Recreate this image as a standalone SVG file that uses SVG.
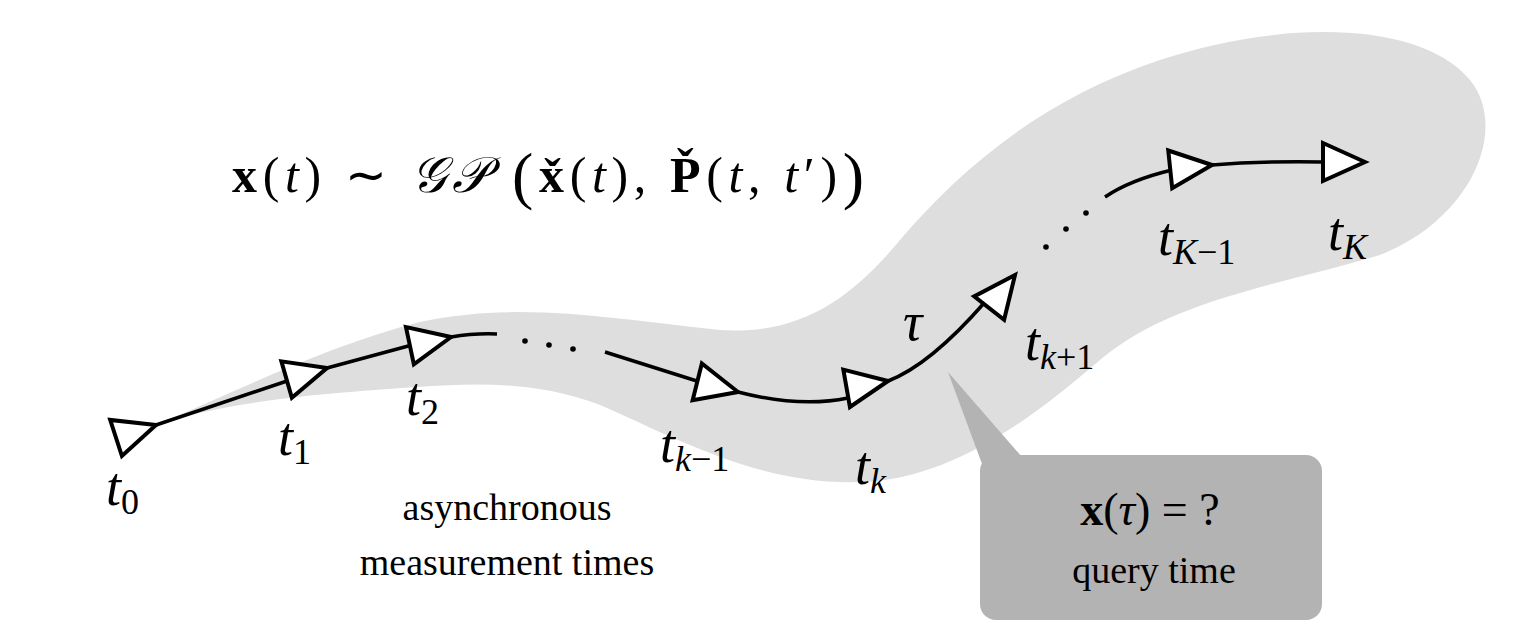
<svg xmlns="http://www.w3.org/2000/svg" width="1515" height="638" viewBox="0 0 1515 638">
<style>
.tri{fill:#fff;stroke:#000;stroke-width:4;stroke-linejoin:miter}
.ln{fill:none;stroke:#000;stroke-width:3.5}
.lab{font-family:"Liberation Serif",serif;font-style:italic;font-size:54px}
.sub{font-size:36px;font-style:normal}
.subi{font-size:36px}
.txt{font-family:"Liberation Serif",serif;font-size:38px;text-anchor:middle}
</style>
<defs><path id="tr" d="M0,0 L-42,-19 L-42,19 Z"/></defs>
<rect width="1515" height="638" fill="#fff"/>
<path id="blob" fill="#dedede" d="M156,425 C250,385 330,345 420,322 C520,300 620,320 720,330 C800,335 850,300 900,240 C960,170 1040,100 1160,60 C1280,20 1420,20 1470,80 C1510,130 1470,220 1380,255 C1280,285 1170,300 1100,360 C1030,420 950,480 860,482 C760,485 680,440 600,405 C520,375 450,385 350,392 C270,398 200,410 156,425 Z"/>
<g id="callout">
<path d="M948,372 L985,472 L1022,457 Z" fill="#b3b3b3"/>
<rect x="980" y="455" width="342" height="165" rx="16" fill="#b3b3b3"/>
<text class="txt" x="1150" y="525" style="font-size:46px"><tspan font-weight="bold">x</tspan>(<tspan font-style="italic">τ</tspan>) = ?</text>
<text class="txt" x="1154" y="583">query time</text>
</g>
<g id="connectors">
<path class="ln" d="M156,425 L290,380 M327,368 L412,345 M451,337 Q475,333 497,334"/>
<path class="ln" d="M605,352 L700,382 M738,392 Q800,408 848,398"/>
<path class="ln" d="M888,381 Q930,365 985,302"/>
<path class="ln" d="M1105,197 Q1130,180 1172,170 M1212,165 Q1260,161 1322,162"/>
<g fill="#000"><circle cx="525" cy="341" r="2.8"/><circle cx="549" cy="345" r="2.8"/><circle cx="573" cy="349" r="2.8"/>
<circle cx="1046" cy="247" r="2.8"/><circle cx="1066" cy="229" r="2.8"/><circle cx="1086" cy="213" r="2.8"/></g>
</g>
<g id="t0"><use href="#tr" class="tri" transform="translate(156,425) rotate(-18)"/><text class="lab" x="106" y="505">t<tspan class="sub" dy="9">0</tspan></text></g>
<g id="t1"><use href="#tr" class="tri" transform="translate(327,368) rotate(-16)"/><text class="lab" x="278" y="455">t<tspan class="sub" dy="9">1</tspan></text></g>
<g id="t2"><use href="#tr" class="tri" transform="translate(451,337) rotate(-12)"/><text class="lab" x="406" y="415">t<tspan class="sub" dy="9">2</tspan></text></g>
<g id="tk-1"><use href="#tr" class="tri" transform="translate(738,392) rotate(14)"/><text class="lab" x="660" y="462">t<tspan class="subi" dy="9">k</tspan><tspan class="sub">−1</tspan></text></g>
<g id="tk"><use href="#tr" class="tri" transform="translate(888,381) rotate(-10)"/><text class="lab" x="855" y="484">t<tspan class="subi" dy="9">k</tspan></text></g>
<g id="tau"><text class="lab" x="903" y="340">τ</text></g>
<g id="tk+1"><use href="#tr" class="tri" transform="translate(1015,275) rotate(-52)"/><text class="lab" x="1025" y="360">t<tspan class="subi" dy="9">k</tspan><tspan class="sub">+1</tspan></text></g>
<g id="tK-1"><use href="#tr" class="tri" transform="translate(1212,165) rotate(-6)"/><text class="lab" x="1158" y="255">t<tspan class="subi" dy="9">K</tspan><tspan class="sub">−1</tspan></text></g>
<g id="tK"><use href="#tr" class="tri" transform="translate(1365,162) rotate(0)"/><text class="lab" x="1328" y="250">t<tspan class="subi" dy="9">K</tspan></text></g>
<g id="caption"><text class="txt" x="507" y="520">asynchronous</text><text class="txt" x="507" y="575">measurement times</text></g>
<g id="equation"><text x="232" y="192" textLength="632" lengthAdjust="spacing" style="font-family:'Liberation Serif',serif;font-size:50px"><tspan font-weight="bold">x</tspan>(<tspan font-style="italic">t</tspan>) ∼ <tspan font-style="italic" font-family="DejaVu Serif">𝒢𝒫</tspan> <tspan font-size="64" dy="5">(</tspan><tspan dy="-5" font-weight="bold">x̌</tspan>(<tspan font-style="italic">t</tspan>), <tspan font-weight="bold">P̌</tspan>(<tspan font-style="italic">t</tspan>, <tspan font-style="italic">t</tspan>′)<tspan font-size="64" dy="5">)</tspan></text></g>
</svg>
